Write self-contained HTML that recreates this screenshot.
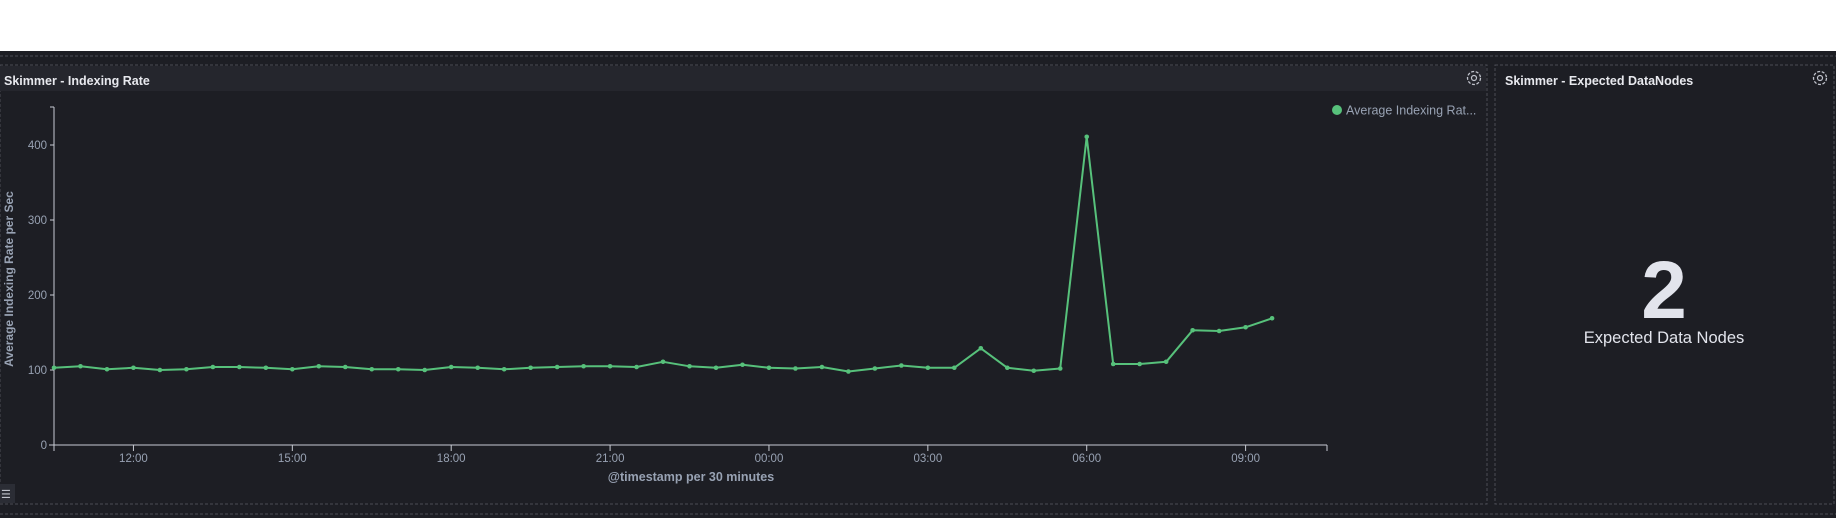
<!DOCTYPE html>
<html><head><meta charset="utf-8">
<style>
html,body{margin:0;padding:0;width:1836px;height:518px;overflow:hidden;background:#1d1e24;font-family:"Liberation Sans",sans-serif}
svg{display:block}
</style></head>
<body>
<svg id="root" width="1836" height="518" viewBox="0 0 1836 518">
  <rect x="0" y="0" width="1836" height="51" fill="#ffffff"/>
  <rect x="0" y="51" width="1836" height="467" fill="#1d1e24"/>
  <line x1="0" y1="56" x2="1836" y2="56" stroke="#4a4c55" stroke-dasharray="3,2"/>
  <!-- panel 1 -->
  <g>
    <rect x="0" y="65" width="1487" height="439" fill="none" stroke="#4a4c55" stroke-dasharray="3,2"/>
    <rect x="0" y="66" width="1486" height="25" fill="#25262d"/>
    <text x="4" y="85" fill="#e8e9ee" font-size="12.5" font-weight="bold">Skimmer - Indexing Rate</text>
    <g transform="translate(1474,78)">
      <circle r="6.5" fill="none" stroke="#c0c3cc" stroke-width="1.3" stroke-dasharray="3,1.6"/>
      <circle r="2.5" fill="none" stroke="#c0c3cc" stroke-width="1.2"/>
    </g>
    <g>
      <circle cx="1337" cy="110" r="5" fill="#57c17b"/>
      <text x="1346" y="114.5" fill="#98a2b3" font-size="12.5">Average Indexing Rat...</text>
    </g>
    <g>
      <rect x="0" y="484" width="15" height="19" fill="#2b2d35"/>
      <text x="1" y="498" fill="#c0c3cc" font-size="11">☰</text>
    </g>
    <g id="chart"></g>
  </g>
  <!-- panel 2 -->
  <g>
    <rect x="1495" y="65" width="339" height="439" fill="none" stroke="#4a4c55" stroke-dasharray="3,2"/>
    <text x="1505" y="85" fill="#e8e9ee" font-size="12.5" font-weight="bold">Skimmer - Expected DataNodes</text>
    <g transform="translate(1820,78)">
      <circle r="6.5" fill="none" stroke="#c0c3cc" stroke-width="1.3" stroke-dasharray="3,1.6"/>
      <circle r="2.5" fill="none" stroke="#c0c3cc" stroke-width="1.2"/>
    </g>
    <text x="1664" y="318" text-anchor="middle" fill="#e2e4ec" font-size="82" font-weight="bold">2</text>
    <text x="1664" y="343" text-anchor="middle" fill="#e2e4ec" font-size="16.5">Expected Data Nodes</text>
  </g>
  <line x1="0" y1="514" x2="1836" y2="514" stroke="#4a4c55" stroke-dasharray="3,2"/>
</svg>
<script>
const timeLabels = ["10:30","11:00","11:30","12:00","12:30","13:00","13:30","14:00","14:30","15:00","15:30","16:00","16:30","17:00","17:30","18:00","18:30","19:00","19:30","20:00","20:30","21:00","21:30","22:00","22:30","23:00","23:30","00:00","00:30","01:00","01:30","02:00","02:30","03:00","03:30","04:00","04:30","05:00","05:30","06:00","06:30","07:00","07:30","08:00","08:30","09:00","09:30"];
const rateValues = [103,105,101,103,100,101,104,104,103,101,105,104,101,101,100,104,103,101,103,104,105,105,104,111,105,103,107,103,102,104,98,102,106,103,103,129,103,99,102,411,108,108,111,153,152,157,169];
const yTicks = [0,100,200,300,400];
const xTickLabels = ["12:00","15:00","18:00","21:00","00:00","03:00","06:00","09:00"];
const xTickIndex = [3,9,15,21,27,33,39,45];

const NS="http://www.w3.org/2000/svg";
const g=document.getElementById('chart');
const X0=54, STEP=26.48, Y0=445, YS=0.75, XEND=1327, YTOP=107;
const xs=i=>X0+i*STEP;
const ys=v=>Y0-v*YS;
function mk(t,a,p){const e=document.createElementNS(NS,t);for(const k in a)e.setAttribute(k,a[k]);(p||g).appendChild(e);return e;}

let e=mk('line',{x1:X0,y1:YTOP,x2:X0,y2:Y0,stroke:'#c8cbd3'});


e=mk('line',{x1:X0-5,y1:Y0,x2:XEND,y2:Y0,stroke:'#c8cbd3'});


mk('line',{x1:X0-4,y1:YTOP,x2:X0,y2:YTOP,stroke:'#c8cbd3'});
mk('line',{x1:XEND,y1:Y0,x2:XEND,y2:Y0+6,stroke:'#c8cbd3'});
mk('line',{x1:X0,y1:Y0,x2:X0,y2:Y0+6,stroke:'#c8cbd3'});
yTicks.forEach(v=>{
  mk('line',{x1:X0-4,y1:ys(v),x2:X0,y2:ys(v),stroke:'#c8cbd3'});
  const t=mk('text',{x:X0-7,y:ys(v)+4,'text-anchor':'end',fill:'#98a2b3','font-size':'11.5'});
  t.textContent=v;
  
  
});
xTickLabels.forEach((l,k)=>{
  const x=xs(xTickIndex[k]);
  mk('line',{x1:x,y1:Y0,x2:x,y2:Y0+6,stroke:'#c8cbd3'});
  const t=mk('text',{x:x,y:Y0+17,'text-anchor':'middle',fill:'#98a2b3','font-size':'11.5'});
  t.textContent=l;
  
  
});
let t=mk('text',{x:691,y:481,'text-anchor':'middle',fill:'#98a2b3','font-size':'12.5','font-weight':'bold'});
t.textContent='@timestamp per 30 minutes';


t=mk('text',{x:0,y:0,'text-anchor':'middle',fill:'#98a2b3','font-size':'12','font-weight':'bold',transform:'translate(13,279) rotate(-90)'});
t.textContent='Average Indexing Rate per Sec';



const pts=rateValues.map((v,i)=>xs(i).toFixed(1)+','+ys(v).toFixed(1)).join(' ');
const line=mk('polyline',{points:pts,fill:'none',stroke:'#57c17b','stroke-width':'2','stroke-linejoin':'round'});


rateValues.forEach((v,i)=>{
  const c=mk('circle',{cx:xs(i),cy:ys(v),r:2.3,fill:'#57c17b'});
  
  
});
</script>
</body></html>
